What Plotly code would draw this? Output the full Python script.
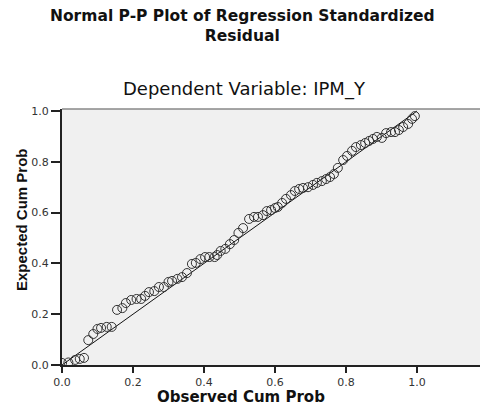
import plotly.graph_objects as go

observed = [0.0, 0.018, 0.037, 0.05, 0.062,
            0.074, 0.088, 0.10, 0.11, 0.126, 0.14,
            0.155, 0.17, 0.18, 0.195, 0.21, 0.223, 0.234, 0.245, 0.26, 0.273,
            0.287, 0.30, 0.31, 0.325, 0.338, 0.352, 0.366, 0.377, 0.39, 0.403,
            0.415, 0.43, 0.437, 0.447, 0.46, 0.473, 0.485, 0.497,
            0.51, 0.527, 0.541, 0.552, 0.566, 0.577, 0.589, 0.60, 0.608, 0.62,
            0.631, 0.645, 0.656, 0.668, 0.679, 0.693, 0.707, 0.718, 0.732, 0.744,
            0.755, 0.766, 0.777, 0.792, 0.803, 0.817, 0.828, 0.842, 0.854, 0.865,
            0.876, 0.887, 0.901, 0.913, 0.927, 0.938, 0.949, 0.961, 0.975, 0.986, 0.994]
expected = [0.008, 0.01, 0.02, 0.024, 0.028,
            0.098, 0.122, 0.142, 0.146, 0.15, 0.15,
            0.217, 0.224, 0.244, 0.256, 0.26, 0.26, 0.272, 0.287, 0.291, 0.307,
            0.307, 0.327, 0.331, 0.339, 0.346, 0.362, 0.398, 0.402, 0.417, 0.425,
            0.425, 0.425, 0.433, 0.449, 0.457, 0.476, 0.492, 0.52,
            0.539, 0.575, 0.583, 0.583, 0.59, 0.606, 0.61, 0.618, 0.622, 0.638,
            0.654, 0.669, 0.685, 0.693, 0.697, 0.70, 0.709, 0.717, 0.724, 0.732,
            0.74, 0.752, 0.776, 0.807, 0.823, 0.843, 0.858, 0.866, 0.874, 0.882,
            0.89, 0.898, 0.894, 0.913, 0.917, 0.917, 0.925, 0.937, 0.949, 0.969, 0.98]
ref_line = [0.0, 1.0]
tick_vals = [0.0, 0.2, 0.4, 0.6, 0.8, 1.0]
tick_text = ["0.0", "0.2", "0.4", "0.6", "0.8", "1.0"]

WIDE = "DejaVu Sans, Verdana, sans-serif"
NARROW = "Liberation Sans, Arial, sans-serif"

fig = go.Figure()
fig.add_trace(go.Scatter(x=ref_line, y=ref_line, mode="lines",
                         line=dict(color="#111111", width=1), hoverinfo="skip",
                         showlegend=False))
fig.add_trace(go.Scatter(x=observed, y=expected, mode="markers",
                         marker=dict(symbol="circle-open", size=9,
                                     color="#333333", line=dict(width=1, color="#333333")),
                         showlegend=False))

L, T, B = 62, 109, 40
H = 405 - T - B
W = 480 - L

fig.update_layout(
    width=480, height=405,
    margin=dict(l=L, r=0, t=T, b=B, pad=0),
    paper_bgcolor="white", plot_bgcolor="#F0F0F0",
    font=dict(family=WIDE, color="#222222"),
    xaxis=dict(range=[0, W / 355.0], tickvals=tick_vals, ticktext=tick_text,
               showgrid=False, zeroline=False, showline=True, linecolor="#222222",
               linewidth=1.5, ticks="outside", ticklen=6, tickcolor="#222222",
               tickwidth=1.5, tickfont=dict(size=11, color="#333333", family=WIDE)),
    yaxis=dict(range=[0, H / 254.0], tickvals=tick_vals, ticktext=tick_text,
               showgrid=False, zeroline=False, showline=True, linecolor="#222222",
               linewidth=2, ticks="outside", ticklen=9, tickcolor="#222222",
               tickwidth=1.5, tickfont=dict(size=11, color="#333333", family=WIDE)),
    shapes=[dict(type="line", xref="x domain", yref="y domain", x0=0, x1=1, y0=1, y1=1,
                 line=dict(color="#888888", width=1.5))],
)

def py(pix):  # pixel y from top of figure -> paper coordinate
    return (405 - B - pix) / H
def px(pix):
    return (pix - L) / W

def note(text, x, y, size, family, angle=0):
    fig.add_annotation(text=text, xref="paper", yref="paper", x=px(x), y=py(y),
                       xanchor="center", yanchor="middle", showarrow=False,
                       textangle=angle, font=dict(size=size, color="#111111", family=family))

note("<b>Normal P-P Plot of Regression Standardized<br>Residual</b>", 242, 26, 15.5, WIDE)
note("Dependent Variable: IPM_Y", 244, 89, 18, WIDE)
note("<b>Observed Cum Prob</b>", 241, 397, 15, WIDE)
note("<b>Expected Cum Prob</b>", 21, 220, 15, NARROW, angle=-90)

fig.write_html("out.html", config={"displayModeBar": False},
               post_script="document.body.style.margin='0';document.body.style.overflow='hidden';")
